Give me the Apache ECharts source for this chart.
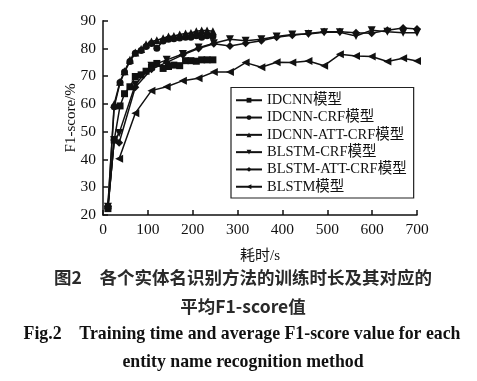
<!DOCTYPE html>
<html>
<head>
<meta charset="utf-8">
<script src="https://cdn.jsdelivr.net/npm/echarts@6/dist/echarts.min.js"></script>
<style>html,body{margin:0;padding:0;background:#fff;}#c{width:477px;height:381px;}</style>
</head>
<body>
<div id="c"></div>
<script>
// ---- data ----
var seriesNames = ['IDCNN模型', 'IDCNN-CRF模型', 'IDCNN-ATT-CRF模型', 'BLSTM-CRF模型', 'BLSTM-ATT-CRF模型', 'BLSTM模型'];
var xTicks = [0, 100, 200, 300, 400, 500, 600, 700];
var yTicks = [20, 30, 40, 50, 60, 70, 80, 90];

var timeIDCNN = [11, 25, 38, 48, 60, 72, 85, 96, 108, 120, 134, 146, 158, 171, 184, 196, 208, 220, 232, 245];
var f1IDCNN = [22.3, 47, 59.3, 63.7, 66.2, 69.9, 70.5, 71.8, 73.3, 74.6, 72.8, 73.5, 74, 73.8, 75.6, 75.6, 75.4, 75.9, 75.9, 75.9];
var f1IDCNNCRF = [23, 59, 67.7, 71.5, 75.3, 78.3, 79.3, 80.7, 81.8, 80.1, 82.7, 83.3, 83.5, 83.8, 84, 84, 84.6, 84, 84.6, 84.3];
var f1IDCNNATTCRF = [23.5, 60, 68, 71.8, 75.9, 78.5, 79.8, 81.5, 82.5, 83, 83.7, 84.3, 84.5, 85, 85.4, 85.6, 86.2, 86.5, 86.5, 86.2];

var timeBLSTM2 = [11, 25, 36, 72, 108, 142, 178, 213, 247, 283, 318, 353, 387, 422, 458, 493, 528, 564, 599, 634, 669, 700];
var f1BLSTMCRF = [23, 47, 49.5, 67, 73.8, 75.9, 78, 80.3, 81.9, 83.3, 82.8, 83.3, 84.3, 85, 85.2, 85.8, 85.8, 84.5, 86.6, 86, 85.7, 85.7];
var f1BLSTMATTCRF = [23, 47, 46, 66, 72.5, 75, 77.7, 80, 81.7, 80.9, 81.9, 82.8, 84, 84.8, 85.4, 86, 86, 85.7, 85.5, 86.6, 87.4, 87];

var timeBLSTM = [36, 72, 108, 142, 178, 213, 247, 283, 318, 353, 387, 422, 458, 493, 528, 564, 599, 634, 669, 700];
var f1BLSTM = [40.3, 56.7, 64.8, 66.2, 68.4, 69.3, 71.5, 71.5, 74.9, 73.2, 75, 74.9, 75.5, 73.8, 77.9, 77.3, 77.1, 75.3, 76.5, 75.5];

var xName = '耗时/s';
var yName = 'F1-score/%';
var captionCN1 = '图2　各个实体名识别方法的训练时长及其对应的';
var captionCN2 = '平均F1-score值';
var captionEN1 = 'Fig.2    Training time and average F1-score value for each';
var captionEN2 = 'entity name recognition method';

function zip(xs, ys) { return xs.map(function (x, i) { return [x, ys[i]]; }); }

var FONT = '"Liberation Serif", "Noto Sans CJK SC", serif';
var symbols = [
  {symbol: 'rect', size: 7, rot: 0},
  {symbol: 'circle', size: 7, rot: 0},
  {symbol: 'triangle', size: 8, rot: 0},
  {symbol: 'triangle', size: 8, rot: 180},
  {symbol: 'diamond', size: 8, rot: 0},
  {symbol: 'triangle', size: 8, rot: 90}
];
var datasets = [
  zip(timeIDCNN, f1IDCNN),
  zip(timeIDCNN, f1IDCNNCRF),
  zip(timeIDCNN, f1IDCNNATTCRF),
  zip(timeBLSTM2, f1BLSTMCRF),
  zip(timeBLSTM2, f1BLSTMATTCRF),
  zip(timeBLSTM, f1BLSTM)
];

var series = seriesNames.map(function (n, i) {
  return {
    name: n,
    type: 'line',
    data: datasets[i],
    symbol: symbols[i].symbol,
    symbolSize: symbols[i].size,
    symbolRotate: symbols[i].rot,
    showAllSymbol: true,
    animation: false,
    lineStyle: {color: '#111', width: 1.5},
    itemStyle: {color: '#111', borderWidth: 0}
  };
});

var chart = echarts.init(document.getElementById('c'), null, {renderer: 'canvas'});
chart.setOption({
  animation: false,
  backgroundColor: '#fff',
  grid: {left: 103, right: 60, top: 20.7, bottom: 166, containLabel: false},
  xAxis: {
    type: 'value', min: xTicks[0], max: xTicks[xTicks.length - 1], interval: 100,
    name: xName, nameLocation: 'middle', nameGap: 34, nameMoveOverlap: false,
    nameTextStyle: {fontFamily: FONT, fontSize: 15, color: '#111'},
    axisLine: {lineStyle: {color: '#111', width: 1.5}},
    axisTick: {inside: true, length: 5, lineStyle: {color: '#111', width: 1.5}},
    axisLabel: {fontFamily: FONT, fontSize: 15.5, color: '#111', margin: 7},
    splitLine: {show: false}
  },
  yAxis: {
    type: 'value', min: yTicks[0], max: yTicks[yTicks.length - 1], interval: 10,
    name: yName, nameLocation: 'middle', nameGap: 24, nameRotate: 90, nameMoveOverlap: false,
    nameTextStyle: {fontFamily: FONT, fontSize: 15, color: '#111'},
    axisLine: {lineStyle: {color: '#111', width: 1.5}},
    axisTick: {inside: true, length: 5, lineStyle: {color: '#111', width: 1.5}},
    axisLabel: {fontFamily: FONT, fontSize: 15.5, color: '#111', margin: 7},
    splitLine: {show: false}
  },
  legend: {
    orient: 'vertical', left: 231, top: 87.5,
    backgroundColor: '#fff', borderColor: '#222', borderWidth: 1.2,
    padding: [5.5, 7, 4, 4],
    itemWidth: 26, itemHeight: 6, itemGap: 2.8,
    textStyle: {fontFamily: FONT, fontSize: 14.5, color: '#111', lineHeight: 14.5},
    data: seriesNames
  },
  graphic: [
    {type: 'text', x: 243, y: 277, style: {text: captionCN1, fontFamily: '"Noto Sans CJK SC"', fontWeight: 'bold', fontSize: 17.5, fill: '#2a2a2a', align: 'center', verticalAlign: 'middle'}},
    {type: 'text', x: 243, y: 306, style: {text: captionCN2, fontFamily: '"Noto Sans CJK SC"', fontWeight: 'bold', fontSize: 17.5, fill: '#2a2a2a', align: 'center', verticalAlign: 'middle'}},
    {type: 'text', x: 242, y: 334, style: {text: captionEN1, fontFamily: '"Liberation Serif"', fontWeight: 'bold', fontSize: 17.8, fill: '#111', align: 'center', verticalAlign: 'middle'}},
    {type: 'text', x: 243, y: 362, style: {text: captionEN2, fontFamily: '"Liberation Serif"', fontWeight: 'bold', fontSize: 17.8, fill: '#111', align: 'center', verticalAlign: 'middle'}}
  ],
  series: series
});
</script>
</body>
</html>
